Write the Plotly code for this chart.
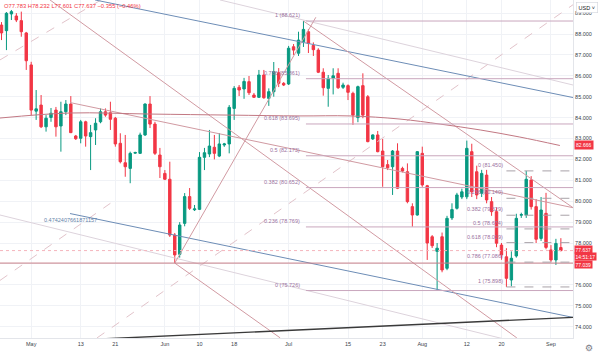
import plotly.graph_objects as go

# ---------------- data ----------------
opens = [88.43, 88.16, 88.96, 88.86, 88.64, 88.05, 86.52, 84.31, 84.60, 83.56,
         84.01, 84.36, 83.60, 84.28, 84.65, 83.12, 83.01, 83.80, 83.09, 83.41,
         83.80, 84.28, 84.23, 83.97, 82.77, 81.84, 81.57, 82.30, 82.29, 83.17,
         84.65, 83.69, 82.21, 81.33, 81.05, 78.38, 77.46, 78.94, 80.22, 79.59,
         79.61, 82.10, 82.26, 82.58, 82.16, 82.69, 82.74, 84.44, 85.45, 85.37,
         85.72, 85.08, 84.97, 86.04, 84.92, 85.24, 86.15, 85.64, 85.61, 87.39,
         87.08, 87.63, 88.11, 87.45, 87.23, 86.17, 85.40, 85.88, 86.12, 85.45,
         85.53, 85.16, 84.00, 85.53, 85.00, 82.98, 83.17, 82.40, 81.75, 81.65,
         82.40, 81.57, 81.41, 79.74, 79.34, 82.29, 80.74, 78.30, 77.60, 78.30,
         76.79, 79.20, 79.66, 80.20, 80.21, 82.37, 81.41, 80.38, 81.25, 79.98,
         79.50, 77.90, 77.34, 76.23, 77.38, 79.33, 79.34, 81.01, 79.74, 78.22,
         79.42, 77.67, 77.19, 77.783]
highs = [88.57, 89.05, 89.15, 89.00, 89.07, 88.10, 86.67, 85.32, 85.08, 84.12,
         84.46, 84.51, 84.76, 84.84, 85.03, 83.17, 83.89, 83.85, 83.65, 83.97,
         84.44, 84.44, 84.76, 84.03, 83.25, 83.17, 82.37, 82.37, 83.28, 84.68,
         85.03, 83.80, 82.55, 81.49, 81.89, 78.48, 79.00, 80.39, 80.63, 79.82,
         82.35, 82.55, 83.41, 83.17, 83.26, 82.79, 84.60, 85.51, 85.56, 85.90,
         85.99, 85.18, 86.28, 86.28, 85.40, 86.66, 86.37, 85.70, 87.43, 87.52,
         88.11, 88.62, 88.24, 87.60, 87.32, 86.36, 86.04, 86.36, 86.36, 85.67,
         85.59, 85.24, 85.53, 86.12, 85.08, 83.20, 83.36, 82.98, 81.97, 82.45,
         82.77, 81.65, 81.81, 79.90, 82.40, 82.61, 80.78, 78.38, 78.00, 78.50,
         79.30, 79.90, 80.40, 80.60, 82.90, 82.75, 81.70, 81.50, 81.50, 80.20,
         79.70, 78.00, 77.75, 77.60, 79.40, 79.45, 81.45, 81.20, 80.10, 80.20,
         80.40, 77.90, 78.20, 78.232]
lows = [87.71, 87.23, 88.67, 88.57, 87.87, 86.28, 84.12, 83.89, 83.50, 83.33,
        83.80, 83.09, 82.37, 84.12, 83.26, 82.93, 82.77, 82.61, 81.49, 82.69,
        83.73, 84.04, 83.41, 82.61, 81.81, 81.17, 80.86, 82.26, 82.26, 83.12,
        83.50, 82.21, 81.11, 81.01, 78.29, 77.04, 77.30, 78.80, 79.58, 79.53,
        79.58, 81.49, 82.11, 82.00, 82.11, 82.60, 82.29, 83.89, 85.03, 84.90,
        85.08, 84.94, 84.94, 84.90, 84.56, 85.00, 85.46, 85.51, 85.56, 87.00,
        86.95, 87.38, 87.09, 86.95, 86.13, 85.05, 84.52, 85.11, 85.37, 85.37,
        84.84, 83.65, 83.78, 83.97, 82.82, 82.93, 82.34, 80.69, 81.49, 80.30,
        80.58, 81.38, 79.90, 78.78, 79.31, 80.69, 77.19, 77.76, 75.73, 76.60,
        76.70, 79.10, 79.60, 80.10, 80.10, 80.20, 80.10, 80.20, 79.90, 79.30,
        77.80, 77.20, 75.90, 75.93, 77.30, 79.20, 79.20, 79.60, 78.00, 78.10,
        77.70, 77.10, 76.95, 77.601]
closes = [88.05, 88.99, 89.07, 88.67, 88.11, 86.72, 84.36, 84.42, 83.56, 83.97,
          84.21, 83.56, 84.28, 84.65, 83.28, 82.99, 83.80, 83.12, 83.28, 83.73,
          84.28, 84.12, 83.92, 82.74, 81.89, 81.65, 82.29, 82.33, 83.17, 84.65,
          83.69, 82.29, 81.65, 81.05, 78.38, 77.43, 78.86, 80.22, 79.66, 79.63,
          82.10, 82.32, 82.64, 82.29, 82.74, 82.74, 84.49, 85.40, 85.32, 85.73,
          85.19, 84.97, 86.04, 84.95, 85.24, 86.20, 85.64, 85.56, 87.32, 87.23,
          87.71, 88.22, 87.55, 87.25, 86.17, 85.43, 85.88, 86.00, 85.43, 85.56,
          85.21, 84.12, 85.48, 84.12, 82.85, 83.17, 82.37, 81.65, 81.60, 82.40,
          80.62, 81.44, 79.98, 79.34, 82.37, 80.78, 78.00, 77.87, 77.75, 76.71,
          79.18, 79.60, 80.30, 80.45, 82.53, 80.45, 80.30, 81.33, 80.06, 79.50,
          77.99, 77.43, 76.31, 77.27, 79.18, 79.36, 81.05, 79.74, 78.18, 79.58,
          77.79, 77.19, 77.98, 77.637]

tick_idx = [6, 16, 23, 33, 40, 47, 58, 70, 77, 85, 94, 101, 111]
tick_labels = ["May", "13", "21", "Jun", "10", "18", "Jul", "15", "23", "Aug", "12", "20", "Sep"]
price_ticks = list(range(74, 90))

ma_idx = [-0.3, 13.8, 30, 46.2, 60.3, 70.4, 80.5, 88.6, 96.7, 104.7, 112.8]
ma_val = [83.98, 84.22, 84.17, 84.12, 84.08, 84.08, 83.93, 83.69, 83.41, 83.07, 82.666]

fibA_top, fibA_bottom, fibA_start = 88.621, 75.726, 61
fibB_top, fibB_bottom, fibB_start = 81.450, 75.898, 102
fib_levels = [0, 0.236, 0.382, 0.5, 0.618, 0.786, 1]

support_level = 77.039
last_price = 77.637
ma_last = 82.666
countdown = "14:51:17"
ohlc_text = "O77.783 H78.232 L77.601 C77.637 \u22120.355 (\u22120.46%)"

# trend drawings (bar index, price) pairs
blue_lines = [((18.9, 89.63), (115.45, 84.96)), ((13.84, 79.41), (115.45, 74.44))]
gray_lines = [((44.14, 89.63), (115.45, 85.56)), ((-0.3, 79.34), (104.75, 73.22))]
rose_lines = [((9.8, 89.63), (104.1, 73.46)),
              ((61, 88.621), (115.45, 79.69)),
              ((13.84, 84.72), (115.45, 79.69)),
              ((35, 77.04), (56.3, 73.46)),
              ((35, 77.04), (63.5, 88.8))]
dash_lines = [((-0.3, 86.76), (20.1, 89.63)),
              ((-0.3, 76.21), (22, 79.9)),
              ((19.3, 73.46), (115.45, 89.4))]
black_line = ((17.27, 73.38), (115.45, 74.44))

# ---------------- figure ----------------
X0, X1 = -0.303, 115.45
Y0, Y1 = 73.455, 89.627
RED, GREEN = "#f23645", "#089981"
FONT = "Liberation Sans"

fig = go.Figure()

def seg(p, color, width=1, dash=None):
    fig.add_trace(go.Scatter(x=[p[0][0], p[1][0]], y=[p[0][1], p[1][1]], mode="lines",
                             line=dict(color=color, width=width, dash=dash),
                             hoverinfo="skip", showlegend=False))

for p in gray_lines:
    seg(p, "#ddd3dc", 1)
for p in dash_lines:
    seg(p, "#e2c3ca", 1, "dash")
for p in blue_lines:
    seg(p, "#6d8db6", 1)
for p in rose_lines:
    seg(p, "#d19aa2", 1)
seg(black_line, "#3a3a3a", 1.4)

# moving average
fig.add_trace(go.Scatter(x=ma_idx, y=ma_val, mode="lines", line=dict(color="#c27883", width=1),
                         line_shape="spline", hoverinfo="skip", showlegend=False))

# support line and last price line
fig.add_trace(go.Scatter(x=[X0, X1], y=[support_level] * 2, mode="lines",
                         line=dict(color="#c97f88", width=1), hoverinfo="skip", showlegend=False))
fig.add_trace(go.Scatter(x=[X0, X1], y=[last_price] * 2, mode="lines",
                         line=dict(color="#f5b5bc", width=1, dash="dot"), hoverinfo="skip", showlegend=False))

ann = []
# fib A
for lv in fib_levels:
    v = fibA_bottom + lv * (fibA_top - fibA_bottom)
    fig.add_trace(go.Scatter(x=[fibA_start + 0.5, X1], y=[v, v], mode="lines",
                             line=dict(color="#c9a7bd", width=1), hoverinfo="skip", showlegend=False))
    ann.append(dict(x=fibA_start, y=v, xref="x", yref="y", text=f"{lv:g} ({v:.3f})",
                    showarrow=False, xanchor="right", yanchor="middle", yshift=6, xshift=-1,
                    font=dict(size=5.5, color="#9b72a0", family=FONT)))
# fib B
for lv in fib_levels:
    v = fibB_top - lv * (fibB_top - fibB_bottom)
    fig.add_trace(go.Scatter(x=[fibB_start, X1], y=[v, v], mode="lines",
                             line=dict(color="#a9a2a8", width=1, dash="dash"), hoverinfo="skip", showlegend=False))
    ann.append(dict(x=fibB_start, y=v, xref="x", yref="y", text=f"{lv:g} ({v:.3f})",
                    showarrow=False, xanchor="right", yanchor="middle", yshift=6, xshift=-1,
                    font=dict(size=5.5, color="#9b72a0", family=FONT)))

fig.add_trace(go.Candlestick(x=list(range(len(opens))), open=opens, high=highs, low=lows, close=closes,
                             increasing=dict(line=dict(color=GREEN, width=1), fillcolor=GREEN),
                             decreasing=dict(line=dict(color=RED, width=1), fillcolor=RED),
                             whiskerwidth=0, hoverinfo="skip", showlegend=False))

ann.append(dict(x=blue_lines[1][0][0], y=blue_lines[1][0][1], xref="x", yref="y",
                text="0.4742407661871157", showarrow=False, yshift=-6, xanchor="center",
                font=dict(size=5.5, color="#5f7fa8", family=FONT)))
ann.append(dict(x=0.004, y=0.998, xref="paper", yref="paper", text=ohlc_text, showarrow=False,
                xanchor="left", yanchor="top", font=dict(size=5.8, color=RED, family=FONT)))

# axis price boxes
box_font = dict(size=5, color="white", family=FONT)
ann.append(dict(x=1.0, y=ma_last, xref="paper", yref="y", text=f"{ma_last:.3f}", showarrow=False,
                xanchor="left", yanchor="middle", bgcolor=RED, font=box_font, borderpad=1, xshift=1))
ann.append(dict(x=1.0, y=last_price, xref="paper", yref="y", text=f"{last_price:.3f}",
                showarrow=False, xanchor="left", yanchor="middle", bgcolor=RED,
                font=box_font, borderpad=0.5, xshift=1, yshift=1))
ann.append(dict(x=1.0, y=last_price, xref="paper", yref="y", text=countdown,
                showarrow=False, xanchor="left", yanchor="middle", bgcolor=RED,
                font=box_font, borderpad=0.5, xshift=1, yshift=-5.5))
ann.append(dict(x=1.0, y=support_level, xref="paper", yref="y", text=f"{support_level:.3f}",
                showarrow=False, xanchor="left", yanchor="middle", bgcolor=RED,
                font=box_font, borderpad=0.5, xshift=1, yshift=-1.5))
ann.append(dict(x=1.0, y=1.0, xref="paper", yref="paper", text="USD \u02c5", showarrow=False,
                xanchor="left", yanchor="top", xshift=3, yshift=-2, bordercolor="#d1d4dc", borderwidth=0.6,
                bgcolor="white", font=dict(size=5.5, color="#131722", family=FONT), borderpad=2))
ann.append(dict(x=1.0, y=0, xref="paper", yref="paper", text="\u2699", showarrow=False,
                xanchor="left", yanchor="top", xshift=10, yshift=-3,
                font=dict(size=9, color="#787b86", family="DejaVu Sans")))

fig.update_layout(
    width=600, height=354, margin=dict(l=0, r=27, t=0, b=16),
    paper_bgcolor="white", plot_bgcolor="white", showlegend=False,
    annotations=ann,
    xaxis=dict(range=[X0, X1], tickvals=tick_idx, ticktext=tick_labels, showgrid=True,
               gridcolor="#f0f2f6", gridwidth=1, zeroline=False, rangeslider=dict(visible=False),
               tickfont=dict(size=5.5, color="#3b3f4a", family=FONT), ticks="", showline=True,
               linecolor="#e3e5ea", linewidth=1),
    yaxis=dict(range=[Y0, Y1], side="right", tickvals=price_ticks,
               ticktext=[f"{v:.3f}" for v in price_ticks], showgrid=True, gridcolor="#f0f2f6",
               zeroline=False, tickfont=dict(size=5.5, color="#3b3f4a", family=FONT), ticks="",
               showline=True, linecolor="#e3e5ea", linewidth=1),
)

fig.write_html("out.html")
